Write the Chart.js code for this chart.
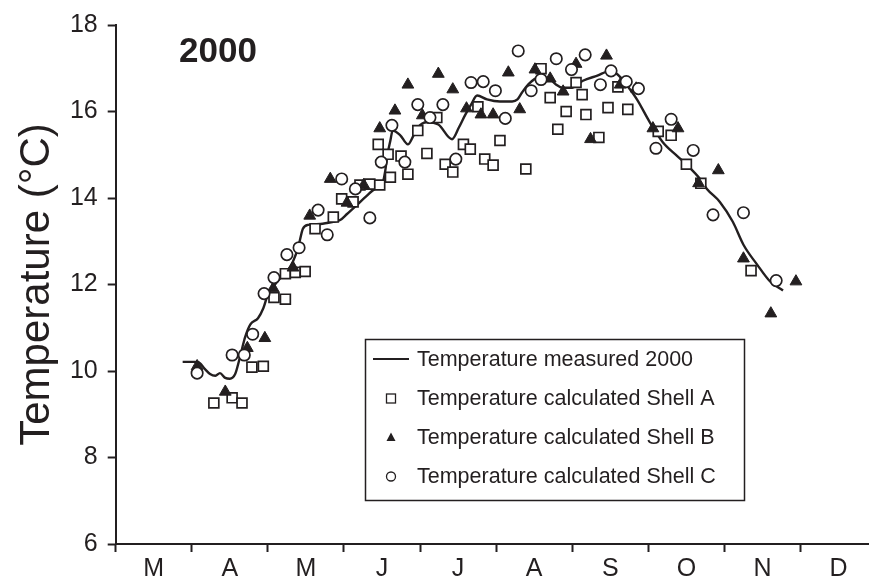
<!DOCTYPE html>
<html>
<head>
<meta charset="utf-8">
<title>Temperature 2000</title>
<script src="https://cdn.jsdelivr.net/npm/chart.js@4.4.1/dist/chart.umd.min.js"></script>
<style>
  html, body { margin: 0; padding: 0; background: #fff; }
  canvas { display: block; }
</style>
</head>
<body>
<canvas id="tempChart" width="869" height="581"></canvas>
<script>
// months on the x axis, x value 2 = start of March (Jan = 0)
const monthLabels = ['M', 'A', 'M', 'J', 'J', 'A', 'S', 'O', 'N', 'D'];
const yearLabel = '2000';

const measuredX = [2.88, 3.08, 3.17, 3.24, 3.31, 3.37, 3.44, 3.50, 3.57, 3.62,
    3.66, 3.70, 3.77, 3.87, 3.94, 4.00, 4.07, 4.16, 4.25, 4.33,
    4.40, 4.46, 4.53, 4.69, 4.86, 4.95, 5.04, 5.17, 5.28, 5.41,
    5.50, 5.54, 5.57, 5.61, 5.64, 5.74, 5.84, 5.91, 5.97, 6.09,
    6.24, 6.42, 6.51, 6.59, 6.67, 6.75, 6.88, 7.05, 7.21, 7.28,
    7.34, 7.42, 7.55, 7.71, 7.79, 7.87, 8.00, 8.14, 8.33, 8.50,
    8.60, 8.72, 8.85, 9.02, 9.19, 9.38, 9.51, 9.68, 9.77, 9.94,
    10.11, 10.25, 10.43, 10.60, 10.77];
const measuredY = [10.21, 10.21, 10.05, 9.93, 9.89, 9.95, 9.84, 9.82, 9.93, 10.23,
    10.51, 10.78, 11.08, 11.22, 11.45, 11.77, 11.95, 12.14, 12.30, 12.53,
    12.87, 13.29, 13.38, 13.40, 13.45, 13.49, 13.63, 13.84, 14.02, 14.21,
    14.30, 14.60, 14.99, 15.33, 15.56, 15.45, 15.24, 15.43, 15.63, 15.75,
    15.70, 15.36, 15.63, 15.91, 16.16, 16.37, 16.28, 16.23, 16.23, 16.28,
    16.44, 16.62, 16.78, 16.74, 16.62, 16.55, 16.55, 16.71, 16.83, 16.94,
    16.85, 16.60, 16.28, 15.75, 15.29, 14.97, 14.76, 14.44, 14.21, 13.91,
    13.45, 12.92, 12.46, 12.07, 11.86];

const shellAX = [3.29, 3.53, 3.66, 3.79, 3.94, 4.08, 4.23, 4.23, 4.36, 4.49,
    4.62, 4.86, 4.97, 5.12, 5.21, 5.34, 5.47, 5.61, 5.45, 5.58,
    5.75, 5.84, 5.97, 6.09, 6.22, 6.33, 6.43, 6.57, 6.66, 6.76,
    6.85, 6.96, 7.05, 7.39, 7.59, 7.71, 7.81, 7.92, 8.05, 8.13,
    8.18, 8.35, 8.47, 8.60, 8.73, 9.13, 9.30, 9.50, 9.69, 10.35];
const shellAY = [9.26, 9.38, 9.26, 10.09, 10.11, 11.70, 11.66, 12.25, 12.28, 12.30,
    13.29, 13.56, 13.98, 13.91, 14.30, 14.32, 14.30, 14.48, 15.24, 15.01,
    14.97, 14.55, 15.56, 15.03, 15.86, 14.78, 14.60, 15.24, 15.13, 16.11,
    14.90, 14.76, 15.33, 14.67, 16.99, 16.32, 15.59, 16.00, 16.67, 16.39,
    15.93, 15.40, 16.09, 16.57, 16.05, 15.54, 15.45, 14.78, 14.34, 12.32];

const shellBX = [3.07, 3.44, 3.73, 3.96, 4.07, 4.33, 4.55, 4.82, 5.04, 5.26,
    5.47, 5.67, 5.84, 6.03, 6.24, 6.43, 6.61, 6.80, 6.96, 7.16,
    7.31, 7.51, 7.71, 7.88, 8.05, 8.24, 8.45, 8.63, 8.84, 9.06,
    9.39, 9.66, 9.92, 10.25, 10.61, 10.94];
const shellBY = [10.11, 9.52, 10.53, 10.76, 11.91, 12.39, 13.59, 14.44, 13.89, 14.30,
    15.61, 16.02, 16.62, 15.91, 16.87, 16.51, 16.07, 15.93, 15.93, 16.90,
    16.05, 16.97, 16.76, 16.46, 17.10, 15.36, 17.29, 16.62, 16.53, 15.61,
    15.61, 14.34, 14.64, 12.60, 11.33, 12.07];

const shellCX = [3.07, 3.53, 3.69, 3.80, 3.95, 4.08, 4.25, 4.41, 4.66, 4.78,
    4.97, 5.15, 5.34, 5.49, 5.63, 5.80, 5.97, 6.13, 6.30, 6.47,
    6.67, 6.83, 6.99, 7.12, 7.29, 7.46, 7.59, 7.79, 7.99, 8.17,
    8.37, 8.51, 8.71, 8.87, 9.10, 9.30, 9.59, 9.85, 10.25, 10.68];
const shellCY = [9.95, 10.37, 10.37, 10.85, 11.79, 12.16, 12.69, 12.85, 13.72, 13.15,
    14.44, 14.21, 13.54, 14.83, 15.68, 14.83, 16.16, 15.86, 16.16, 14.90,
    16.67, 16.69, 16.48, 15.84, 17.40, 16.48, 16.74, 17.22, 16.97, 17.31,
    16.62, 16.94, 16.69, 16.53, 15.15, 15.82, 15.10, 13.61, 13.66, 12.09];

const ink = '#231f20';
const fontFamily = '"Liberation Sans", Arial, Helvetica, sans-serif';

function toPoints(xs, ys) {
    return xs.map((x, i) => ({ x: x, y: ys[i] }));
}

// tick marks at month boundaries, labels in the middle of each month
const xTickValues = [];
monthLabels.forEach((m, i) => {
    xTickValues.push(2 + i);
    xTickValues.push(2.5 + i);
});

const legendRows = [
    { label: 'Temperature measured 2000', kind: 'line' },
    { label: 'Temperature calculated Shell A', kind: 'rect' },
    { label: 'Temperature calculated Shell B', kind: 'triangle' },
    { label: 'Temperature calculated Shell C', kind: 'circle' }
];

const overlayPlugin = {
    id: 'overlay',
    afterDatasetsDraw(chart) {
        const ctx = chart.ctx;
        ctx.save();

        ctx.fillStyle = ink;
        ctx.font = 'bold 35px ' + fontFamily;
        ctx.textBaseline = 'alphabetic';
        ctx.textAlign = 'left';
        ctx.fillText(yearLabel, 179, 62);

        // legend box
        const bx = 365.5, by = 339.5, bw = 379, bh = 161;
        ctx.fillStyle = '#fff';
        ctx.fillRect(bx, by, bw, bh);
        ctx.strokeStyle = ink;
        ctx.lineWidth = 1.5;
        ctx.strokeRect(bx, by, bw, bh);

        const rowY = [359, 398.5, 437.5, 476.5];
        const symX = 391;
        ctx.font = '21.5px ' + fontFamily;
        ctx.textBaseline = 'middle';
        legendRows.forEach((row, i) => {
            const y = rowY[i];
            ctx.strokeStyle = ink;
            ctx.fillStyle = ink;
            ctx.lineWidth = 1.3;
            if (row.kind === 'line') {
                ctx.lineWidth = 2;
                ctx.beginPath();
                ctx.moveTo(373, y);
                ctx.lineTo(409, y);
                ctx.stroke();
            } else if (row.kind === 'rect') {
                ctx.strokeRect(symX - 4.5, y - 4.5, 9, 9);
            } else if (row.kind === 'triangle') {
                ctx.beginPath();
                ctx.moveTo(symX, y - 5);
                ctx.lineTo(symX + 4.5, y + 3.5);
                ctx.lineTo(symX - 4.5, y + 3.5);
                ctx.closePath();
                ctx.fill();
            } else {
                ctx.beginPath();
                ctx.arc(symX, y, 4.5, 0, Math.PI * 2);
                ctx.stroke();
            }
            ctx.fillStyle = ink;
            ctx.fillText(row.label, 417, y + 1);
        });

        ctx.restore();
    }
};

const ctx = document.getElementById('tempChart').getContext('2d');

new Chart(ctx, {
    type: 'scatter',
    data: {
        datasets: [{
            label: 'Temperature measured 2000',
            data: toPoints(measuredX, measuredY),
            showLine: true,
            borderColor: ink,
            borderWidth: 2.4,
            pointRadius: 0,
            cubicInterpolationMode: 'monotone',
            order: 4
        }, {
            label: 'Temperature calculated Shell A',
            data: toPoints(shellAX, shellAY),
            pointStyle: 'rect',
            pointRadius: 7,
            borderColor: ink,
            borderWidth: 1.7,
            backgroundColor: '#fff',
            order: 3
        }, {
            label: 'Temperature calculated Shell B',
            data: toPoints(shellBX, shellBY),
            pointStyle: 'triangle',
            pointRadius: 6.8,
            borderColor: ink,
            borderWidth: 1,
            backgroundColor: ink,
            order: 2
        }, {
            label: 'Temperature calculated Shell C',
            data: toPoints(shellCX, shellCY),
            pointStyle: 'circle',
            pointRadius: 5.7,
            borderColor: ink,
            borderWidth: 1.7,
            backgroundColor: '#fff',
            order: 1
        }]
    },
    options: {
        responsive: false,
        animation: false,
        devicePixelRatio: 1,
        layout: {
            autoPadding: false,
            padding: { top: 22, right: 0, bottom: 0, left: 0 }
        },
        plugins: {
            legend: { display: false },
            tooltip: { enabled: false }
        },
        scales: {
            x: {
                type: 'linear',
                min: 2,
                max: 11.9,
                afterBuildTicks: function (scale) {
                    scale.ticks = xTickValues.map(v => ({ value: v }));
                },
                afterFit: function (scale) {
                    scale.height = 37;
                },
                border: { display: true, color: ink, width: 2 },
                grid: {
                    drawOnChartArea: false,
                    drawTicks: true,
                    tickLength: 8,
                    tickWidth: 2,
                    color: function (c) {
                        return c.tick && Number.isInteger(c.tick.value) ? ink : 'rgba(0,0,0,0)';
                    }
                },
                ticks: {
                    autoSkip: false,
                    maxRotation: 0,
                    padding: 2,
                    color: ink,
                    font: { family: fontFamily, size: 25 },
                    callback: function (value) {
                        const i = value - 2;
                        return Number.isInteger(i) ? '' : monthLabels[Math.floor(i)];
                    }
                }
            },
            y: {
                min: 6,
                max: 18,
                afterFit: function (scale) {
                    scale.width = 115.7;
                },
                border: { display: true, color: ink, width: 2 },
                grid: {
                    drawOnChartArea: false,
                    drawTicks: true,
                    tickLength: 8,
                    tickWidth: 2,
                    color: ink
                },
                ticks: {
                    stepSize: 2,
                    padding: 10,
                    color: ink,
                    font: { family: fontFamily, size: 25 }
                },
                title: {
                    display: true,
                    text: 'Temperature (°C)',
                    color: ink,
                    font: { family: fontFamily, size: 42 },
                    padding: { top: 12, bottom: 0 }
                }
            }
        }
    },
    plugins: [overlayPlugin]
});
</script>
</body>
</html>
